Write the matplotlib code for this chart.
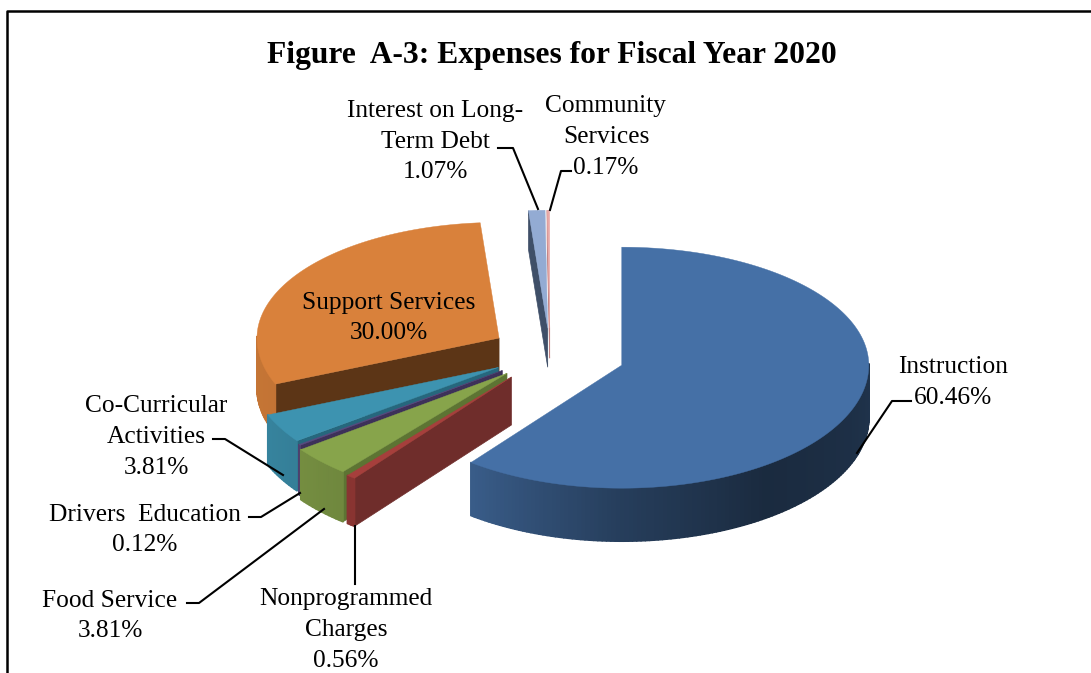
import matplotlib
matplotlib.use("Agg")
import matplotlib.pyplot as plt
import numpy as np
from matplotlib.collections import PolyCollection
from matplotlib.colors import to_rgb

# Data (clockwise from 12 o'clock)
slices = ["Instruction", "Nonprogrammed Charges", "Food Service", "Drivers Education",
          "Co-Curricular Activities", "Support Services", "Interest on Long-Term Debt",
          "Community Services"]
percent = [60.46, 0.56, 3.81, 0.12, 3.81, 30.00, 1.07, 0.17]

# Styles per slice
top_colors = ["#4570a6", "#a63f3c", "#87a44b", "#5a4a80", "#3d93b0", "#d9813b", "#93abd3", "#e8aaa8"]
wall_colors = ["#2c4a70", "#6f2d2b", "#5d7433", "#3d3159", "#26677d", "#5c3516", "#3f4f68", "#c08080"]
explode = [0.307, 0.25, 0.24, 0.24, 0.24, 0.242, 0.21, 0.21]
radius_scale = [1.0, 1.04, 1.04, 1.02, 1.01, 0.98, 1.0, 1.0]
depths = [53, 48, 50, 50, 50, 50, 39, 30]
draw_order = [7, 6, 5, 4, 3, 2, 1, 0]

CX, CY = 550, 353
RX, RY_BACK, RY_FRONT = 247, 118, 123

# side brightness against the clock angle of the rim
shade_angle = [90, 115, 145, 180, 217, 250, 300]
shade_value = [0.46, 0.42, 0.38, 0.55, 0.82, 0.9, 0.92]


def rim(angle, scale=1.0):
    rad = np.radians(angle)
    ry = np.where(np.cos(rad) < 0, RY_FRONT, RY_BACK)
    return scale * RX * np.sin(rad), -scale * ry * np.cos(rad)


def draw_slice(ax, start, end, top, wall, exp, scale, depth):
    mid = (start + end) / 2
    dx, dy = rim(mid)
    ax0, ay0 = CX + exp * dx, CY + exp * dy
    angles = np.linspace(start, end, max(int(end - start), 2) + 1)
    xs, ys = rim(angles, scale)
    xs, ys = ax0 + xs, ay0 + ys

    # radial walls that face the viewer
    if np.sin(np.radians(start)) < -1e-6:
        ax.fill([ax0, xs[0], xs[0], ax0], [ay0, ys[0], ys[0] + depth, ay0 + depth],
                color=wall, lw=0.5, zorder=2)
    if np.sin(np.radians(end)) > 1e-6:
        ax.fill([ax0, xs[-1], xs[-1], ax0], [ay0, ys[-1], ys[-1] + depth, ay0 + depth],
                color=wall, lw=0.5, zorder=2)

    # outer rim, one little quad per step so the shading can change
    quads, cols = [], []
    base = np.array(to_rgb(top))
    for i in range(len(angles) - 1):
        a = (angles[i] + angles[i + 1]) / 2
        if np.cos(np.radians(a)) > 0.02:
            continue
        quads.append([(xs[i], ys[i]), (xs[i + 1], ys[i + 1]),
                      (xs[i + 1], ys[i + 1] + depth), (xs[i], ys[i] + depth)])
        cols.append(base * np.interp(a, shade_angle, shade_value))
    if quads:
        ax.add_collection(PolyCollection(quads, facecolors=cols, edgecolors=cols, linewidths=1.2, zorder=2))

    ax.fill(np.r_[ax0, xs], np.r_[ay0, ys], color=top, lw=0.3, zorder=2)


fig = plt.figure(figsize=(10.91, 6.73), dpi=100)
ax = fig.add_axes([0, 0, 1, 1])
ax.set_xlim(0, 1091)
ax.set_ylim(673, 0)
ax.axis("off")
plt.rcParams["font.family"] = ["Liberation Serif"]

# Frame, open at the bottom of the crop
ax.plot([6.5, 6.5, 1091], [673, 10.5, 10.5], color="black", lw=1.8, zorder=1)

edges = np.r_[0, np.cumsum(percent)] / sum(percent) * 360
for i in draw_order:
    draw_slice(ax, edges[i], edges[i + 1], top_colors[i], wall_colors[i], explode[i], radius_scale[i], depths[i])

ax.text(552, 55, "Figure  A-3: Expenses for Fiscal Year 2020", ha="center", va="center",
        fontsize=22.7, fontweight="bold", family="Liberation Serif", zorder=5)

# Labels with their centre positions
label_text = ["Instruction\n60.46%", "Support Services\n30.00%", "Co-Curricular\nActivities\n3.81%",
              "Drivers  Education\n0.12%", "Food Service\n3.81%", "Nonprogrammed\nCharges\n0.56%",
              "Interest on Long-\nTerm Debt\n1.07%", "Community\nServices\n0.17%"]
label_x = [953, 389, 156, 145, 110, 346, 435, 606]
label_y = [382.5, 318, 437, 530, 616, 630, 141.5, 137]
for t, x, y in zip(label_text, label_x, label_y):
    ax.text(x, y, t, ha="center", va="center", fontsize=18.3, family="Liberation Serif",
            linespacing=1.52, zorder=5)

# Leader lines
leaders = [([911, 892, 857], [401, 401, 453]),
           ([213, 225, 283], [439, 439, 475]),
           ([249, 261, 300], [517, 517, 493]),
           ([187, 199, 324], [603, 603, 509]),
           ([355, 355], [584, 526]),
           ([498, 513, 538], [148, 148, 209]),
           ([571, 561, 550], [171, 171, 210])]
for lx, ly in leaders:
    ax.plot(lx, ly, color="black", lw=1.5, zorder=4)

fig.savefig("out.png", dpi=100)
